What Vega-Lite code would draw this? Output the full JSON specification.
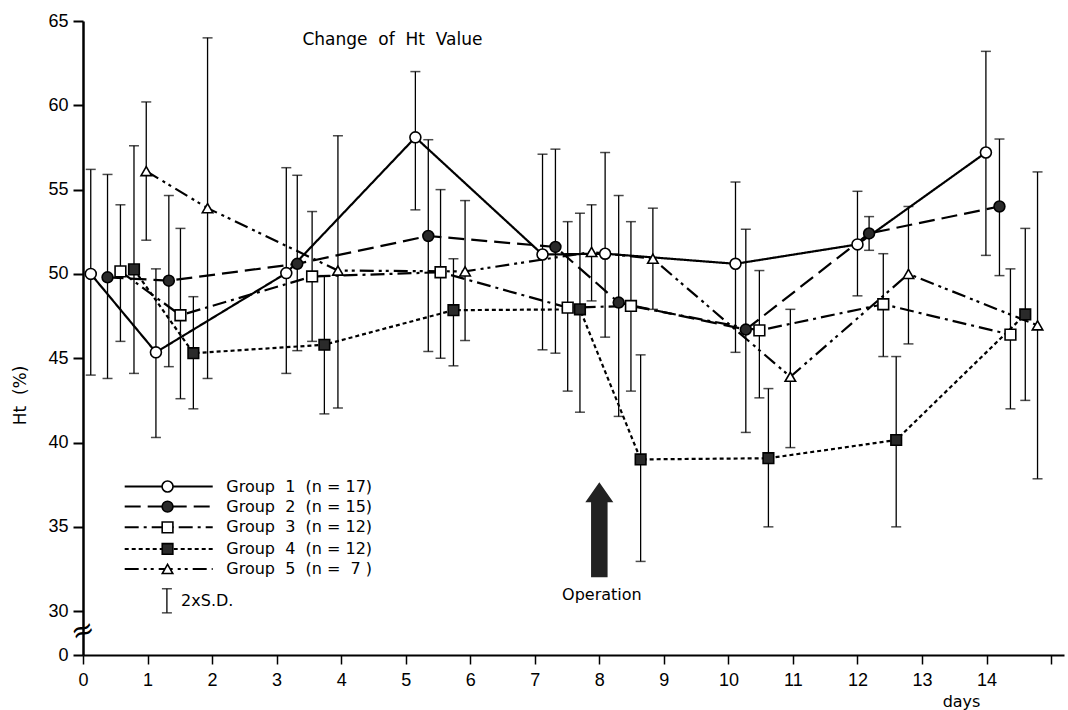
{
  "$schema": "https://vega.github.io/schema/vega-lite/v6.json",
  "width": 981,
  "height": 634,
  "autosize": {"type": "none"},
  "padding": {"left": 83, "top": 21, "right": 4, "bottom": 55},
  "background": "white",
  "config": {"view": {"stroke": null}, "font": "DejaVu Sans"},
  "datasets": {
    "groups": [
      {"g": "Group 1", "day": 0.12, "v": 50.0, "lo": 44.0, "hi": 56.2},
      {"g": "Group 1", "day": 1.13, "v": 45.35, "lo": 40.3, "hi": 50.3},
      {"g": "Group 1", "day": 3.15, "v": 50.05, "lo": 44.1, "hi": 56.3},
      {"g": "Group 1", "day": 5.15, "v": 58.1, "lo": 53.8, "hi": 62.0},
      {"g": "Group 1", "day": 7.12, "v": 51.15, "lo": 45.5, "hi": 57.1},
      {"g": "Group 1", "day": 8.09, "v": 51.2, "lo": 46.25, "hi": 57.2},
      {"g": "Group 1", "day": 10.11, "v": 50.6, "lo": 45.35, "hi": 55.45},
      {"g": "Group 1", "day": 12.0, "v": 51.75, "lo": 48.7, "hi": 54.9},
      {"g": "Group 1", "day": 13.99, "v": 57.2, "lo": 51.1, "hi": 63.2},
      {"g": "Group 2", "day": 0.38, "v": 49.8, "lo": 43.8, "hi": 55.9},
      {"g": "Group 2", "day": 1.33, "v": 49.6, "lo": 44.5, "hi": 54.65},
      {"g": "Group 2", "day": 3.32, "v": 50.6, "lo": 45.45, "hi": 55.85},
      {"g": "Group 2", "day": 5.35, "v": 52.25, "lo": 45.4, "hi": 57.96},
      {"g": "Group 2", "day": 7.32, "v": 51.6, "lo": 45.3, "hi": 57.4},
      {"g": "Group 2", "day": 8.3, "v": 48.3, "lo": 41.55, "hi": 54.65},
      {"g": "Group 2", "day": 10.27, "v": 46.7, "lo": 40.6, "hi": 52.65},
      {"g": "Group 2", "day": 12.18, "v": 52.4, "lo": 51.4, "hi": 53.4},
      {"g": "Group 2", "day": 14.2, "v": 54.0, "lo": 49.9, "hi": 58.0},
      {"g": "Group 3", "day": 0.58, "v": 50.15, "lo": 46.0, "hi": 54.1},
      {"g": "Group 3", "day": 1.51, "v": 47.55, "lo": 42.6, "hi": 52.7},
      {"g": "Group 3", "day": 3.55, "v": 49.85, "lo": 46.0, "hi": 53.7},
      {"g": "Group 3", "day": 5.54, "v": 50.1, "lo": 45.0, "hi": 55.0},
      {"g": "Group 3", "day": 7.51, "v": 48.0, "lo": 43.05, "hi": 53.1},
      {"g": "Group 3", "day": 8.49, "v": 48.1, "lo": 43.05, "hi": 53.1},
      {"g": "Group 3", "day": 10.48, "v": 46.65, "lo": 42.65, "hi": 50.2},
      {"g": "Group 3", "day": 12.4, "v": 48.2, "lo": 45.1, "hi": 51.2},
      {"g": "Group 3", "day": 14.37, "v": 46.4, "lo": 42.0, "hi": 50.3},
      {"g": "Group 4", "day": 0.79, "v": 50.27, "lo": 44.1, "hi": 57.6},
      {"g": "Group 4", "day": 1.71, "v": 45.3, "lo": 42.0, "hi": 48.65},
      {"g": "Group 4", "day": 3.74, "v": 45.8, "lo": 41.7, "hi": 49.9},
      {"g": "Group 4", "day": 5.74, "v": 47.85, "lo": 44.55, "hi": 50.9},
      {"g": "Group 4", "day": 7.7, "v": 47.9, "lo": 41.8, "hi": 53.6},
      {"g": "Group 4", "day": 8.64, "v": 39.0, "lo": 32.95, "hi": 45.2},
      {"g": "Group 4", "day": 10.62, "v": 39.07, "lo": 35.0, "hi": 43.2},
      {"g": "Group 4", "day": 12.6, "v": 40.15, "lo": 35.0, "hi": 45.1},
      {"g": "Group 4", "day": 14.6, "v": 47.6, "lo": 42.5, "hi": 52.7},
      {"g": "Group 5", "day": 0.98, "v": 56.1, "lo": 52.0, "hi": 60.2},
      {"g": "Group 5", "day": 1.93, "v": 53.9, "lo": 43.8, "hi": 64.0},
      {"g": "Group 5", "day": 3.95, "v": 50.2, "lo": 42.05, "hi": 58.2},
      {"g": "Group 5", "day": 5.92, "v": 50.15, "lo": 46.05, "hi": 54.35},
      {"g": "Group 5", "day": 7.88, "v": 51.3, "lo": 48.4, "hi": 54.1},
      {"g": "Group 5", "day": 8.83, "v": 50.9, "lo": 47.9, "hi": 53.9},
      {"g": "Group 5", "day": 10.96, "v": 43.9, "lo": 39.7, "hi": 47.9},
      {"g": "Group 5", "day": 12.79, "v": 50.0, "lo": 45.85, "hi": 54.0},
      {"g": "Group 5", "day": 14.79, "v": 46.95, "lo": 37.85, "hi": 56.05}
    ],
    "legLines": [
      {"g": "Group 1", "day": 0.646, "v": 37.39},
      {"g": "Group 1", "day": 2.01, "v": 37.39},
      {"g": "Group 2", "day": 0.646, "v": 36.2},
      {"g": "Group 2", "day": 2.01, "v": 36.2},
      {"g": "Group 3", "day": 0.646, "v": 34.97},
      {"g": "Group 3", "day": 2.01, "v": 34.97},
      {"g": "Group 4", "day": 0.646, "v": 33.69},
      {"g": "Group 4", "day": 2.01, "v": 33.69},
      {"g": "Group 5", "day": 0.646, "v": 32.5},
      {"g": "Group 5", "day": 2.01, "v": 32.5}
    ],
    "legItems": [
      {"g": "Group 1", "day": 1.31, "v": 37.39, "tx": 2.22, "label": "Group\u00a0 1\u00a0 (n\u00a0=\u00a017)"},
      {"g": "Group 2", "day": 1.31, "v": 36.2, "tx": 2.22, "label": "Group\u00a0 2\u00a0 (n\u00a0=\u00a015)"},
      {"g": "Group 3", "day": 1.31, "v": 34.97, "tx": 2.22, "label": "Group\u00a0 3\u00a0 (n\u00a0=\u00a012)"},
      {"g": "Group 4", "day": 1.31, "v": 33.69, "tx": 2.22, "label": "Group\u00a0 4\u00a0 (n\u00a0=\u00a012)"},
      {"g": "Group 5", "day": 1.31, "v": 32.5, "tx": 2.22, "label": "Group\u00a0 5\u00a0 (n\u00a0=\u00a0 7 )"}
    ],
    "sd": [{"day": 1.3, "lo": 29.9, "hi": 31.33, "tx": 1.52, "v": 30.62, "label": "2xS.D."}],
    "title": [{"day": 3.4, "v": 63.86, "label": "Change\u00a0 of\u00a0 Ht\u00a0 Value"}],
    "op": [{"day": 8.04, "v": 30.98, "label": "Operation"}],
    "arrow": [{"day": 8.0, "v": 34.83}],
    "brk": [{"day": 0.0, "v": 28.8, "label": "≈"}]
  },
  "layer": [
    {
      "data": {"name": "groups"},
      "mark": {"type": "rule", "color": "black", "strokeWidth": 1.3},
      "encoding": {
        "x": {
          "field": "day", "type": "quantitative", "title": "days",
          "scale": {"domain": [0, 15.2], "nice": false, "zero": false},
          "axis": {
            "values": [0, 1, 2, 3, 4, 5, 6, 7, 8, 9, 10, 11, 12, 13, 14, 15],
            "labelExpr": "datum.value > 14.5 ? '' : format(datum.value, 'd')",
            "grid": false, "domainColor": "black", "domainWidth": 2,
            "tickColor": "black", "tickWidth": 1.5, "tickSize": 9,
            "labelFont": "Liberation Sans", "labelFontSize": 18, "labelColor": "black", "labelPadding": 7,
            "labelFlush": false,
            "titleFont": "DejaVu Sans", "titleFontSize": 16, "titleFontWeight": "normal", "titleColor": "black",
            "titleX": 878, "titleY": 51, "titleAlign": "center", "titleBaseline": "alphabetic", "titleAnchor": null
          }
        },
        "y": {
          "field": "lo", "type": "quantitative", "title": "Ht\u00a0 (%)",
          "scale": {"domain": [27.4, 65], "nice": false, "zero": false},
          "axis": {
            "values": [27.4, 30, 35, 40, 45, 50, 55, 60, 65],
            "labelExpr": "datum.value < 29 ? '0' : format(datum.value, 'd')",
            "grid": false, "domainColor": "black", "domainWidth": 2.5,
            "tickColor": "black", "tickWidth": 2, "tickSize": 10,
            "labelFont": "Liberation Sans", "labelFontSize": 18, "labelColor": "black", "labelPadding": 5,
            "labelFlush": false,
            "titleFont": "DejaVu Sans", "titleFontSize": 17, "titleFontWeight": "normal", "titleColor": "black",
            "titleX": -63, "titleY": 374, "titleAlign": "center", "titleBaseline": "middle", "titleAnchor": null
          }
        },
        "y2": {"field": "hi"}
      }
    },
    {
      "data": {"name": "groups"},
      "mark": {"type": "tick", "orient": "horizontal", "color": "black", "size": 10, "thickness": 1.5},
      "encoding": {
        "x": {"field": "day", "type": "quantitative", "title": "days"},
        "y": {"field": "lo", "type": "quantitative", "title": "Ht\u00a0 (%)"}
      }
    },
    {
      "data": {"name": "groups"},
      "mark": {"type": "tick", "orient": "horizontal", "color": "black", "size": 10, "thickness": 1.5},
      "encoding": {
        "x": {"field": "day", "type": "quantitative", "title": "days"},
        "y": {"field": "hi", "type": "quantitative", "title": "Ht\u00a0 (%)"}
      }
    },
    {
      "data": {"name": "groups"},
      "mark": {"type": "line", "color": "black", "strokeWidth": 2.2},
      "encoding": {
        "x": {"field": "day", "type": "quantitative", "title": "days"},
        "y": {"field": "v", "type": "quantitative", "title": "Ht\u00a0 (%)"},
        "detail": {"field": "g"},
        "strokeDash": {
          "field": "g", "type": "nominal", "legend": null,
          "scale": {"domain": ["Group 1", "Group 2", "Group 3", "Group 4", "Group 5"],
                    "range": [[1, 0], [16, 7], [14, 5, 3, 5], [4, 3], [14, 5, 3, 4, 3, 5]]}
        }
      }
    },
    {
      "data": {"name": "legLines"},
      "mark": {"type": "line", "color": "black", "strokeWidth": 2},
      "encoding": {
        "x": {"field": "day", "type": "quantitative", "title": "days"},
        "y": {"field": "v", "type": "quantitative", "title": "Ht\u00a0 (%)"},
        "detail": {"field": "g"},
        "strokeDash": {"field": "g", "type": "nominal", "legend": null}
      }
    },
    {
      "data": {"name": "groups"},
      "mark": {"type": "point", "stroke": "black", "strokeWidth": 1.6, "opacity": 1, "filled": false},
      "encoding": {
        "x": {"field": "day", "type": "quantitative", "title": "days"},
        "y": {"field": "v", "type": "quantitative", "title": "Ht\u00a0 (%)"},
        "shape": {
          "field": "g", "type": "nominal", "legend": null,
          "scale": {"domain": ["Group 1", "Group 2", "Group 3", "Group 4", "Group 5"],
                    "range": ["circle", "circle", "square", "square", "triangle-up"]}
        },
        "fill": {
          "field": "g", "type": "nominal", "legend": null,
          "scale": {"domain": ["Group 1", "Group 2", "Group 3", "Group 4", "Group 5"],
                    "range": ["white", "#2a2a2a", "white", "#2a2a2a", "white"]}
        },
        "size": {
          "field": "g", "type": "nominal", "legend": null,
          "scale": {"domain": ["Group 1", "Group 2", "Group 3", "Group 4", "Group 5"],
                    "range": [120, 110, 115, 110, 150]}
        }
      }
    },
    {
      "data": {"name": "legItems"},
      "mark": {"type": "point", "stroke": "black", "strokeWidth": 1.6, "opacity": 1, "filled": false},
      "encoding": {
        "x": {"field": "day", "type": "quantitative", "title": "days"},
        "y": {"field": "v", "type": "quantitative", "title": "Ht\u00a0 (%)"},
        "shape": {"field": "g", "type": "nominal", "legend": null},
        "fill": {"field": "g", "type": "nominal", "legend": null},
        "size": {"field": "g", "type": "nominal", "legend": null}
      }
    },
    {
      "data": {"name": "legItems"},
      "mark": {"type": "text", "align": "left", "baseline": "middle", "fontSize": 16, "color": "black", "font": "DejaVu Sans"},
      "encoding": {
        "x": {"field": "tx", "type": "quantitative", "title": "days"},
        "y": {"field": "v", "type": "quantitative", "title": "Ht\u00a0 (%)"},
        "text": {"field": "label"}
      }
    },
    {
      "data": {"name": "sd"},
      "mark": {"type": "rule", "color": "black", "strokeWidth": 1.3},
      "encoding": {
        "x": {"field": "day", "type": "quantitative", "title": "days"},
        "y": {"field": "lo", "type": "quantitative", "title": "Ht\u00a0 (%)"},
        "y2": {"field": "hi"}
      }
    },
    {
      "data": {"name": "sd"},
      "mark": {"type": "tick", "orient": "horizontal", "color": "black", "size": 10, "thickness": 1.5},
      "encoding": {
        "x": {"field": "day", "type": "quantitative", "title": "days"},
        "y": {"field": "lo", "type": "quantitative", "title": "Ht\u00a0 (%)"}
      }
    },
    {
      "data": {"name": "sd"},
      "mark": {"type": "tick", "orient": "horizontal", "color": "black", "size": 10, "thickness": 1.5},
      "encoding": {
        "x": {"field": "day", "type": "quantitative", "title": "days"},
        "y": {"field": "hi", "type": "quantitative", "title": "Ht\u00a0 (%)"}
      }
    },
    {
      "data": {"name": "sd"},
      "mark": {"type": "text", "align": "left", "baseline": "middle", "fontSize": 16, "color": "black", "font": "DejaVu Sans"},
      "encoding": {
        "x": {"field": "tx", "type": "quantitative", "title": "days"},
        "y": {"field": "v", "type": "quantitative", "title": "Ht\u00a0 (%)"},
        "text": {"field": "label"}
      }
    },
    {
      "data": {"name": "title"},
      "mark": {"type": "text", "align": "left", "baseline": "middle", "fontSize": 17, "color": "black", "font": "DejaVu Sans"},
      "encoding": {
        "x": {"field": "day", "type": "quantitative", "title": "days"},
        "y": {"field": "v", "type": "quantitative", "title": "Ht\u00a0 (%)"},
        "text": {"field": "label"}
      }
    },
    {
      "data": {"name": "op"},
      "mark": {"type": "text", "align": "center", "baseline": "middle", "fontSize": 16, "color": "black", "font": "DejaVu Sans"},
      "encoding": {
        "x": {"field": "day", "type": "quantitative", "title": "days"},
        "y": {"field": "v", "type": "quantitative", "title": "Ht\u00a0 (%)"},
        "text": {"field": "label"}
      }
    },
    {
      "data": {"name": "arrow"},
      "mark": {"type": "point", "filled": true, "color": "#222222", "opacity": 1, "size": 784,
               "shape": "M0,-3.39L1,-1.96L0.59,-1.96L0.59,3.39L-0.59,3.39L-0.59,-1.96L-1,-1.96Z"},
      "encoding": {
        "x": {"field": "day", "type": "quantitative", "title": "days"},
        "y": {"field": "v", "type": "quantitative", "title": "Ht\u00a0 (%)"}
      }
    },
    {
      "data": {"name": "brk"},
      "mark": {"type": "text", "align": "center", "baseline": "middle", "fontSize": 28, "color": "black", "angle": -20, "font": "DejaVu Sans"},
      "encoding": {
        "x": {"field": "day", "type": "quantitative", "title": "days"},
        "y": {"field": "v", "type": "quantitative", "title": "Ht\u00a0 (%)"},
        "text": {"field": "label"}
      }
    }
  ]
}
